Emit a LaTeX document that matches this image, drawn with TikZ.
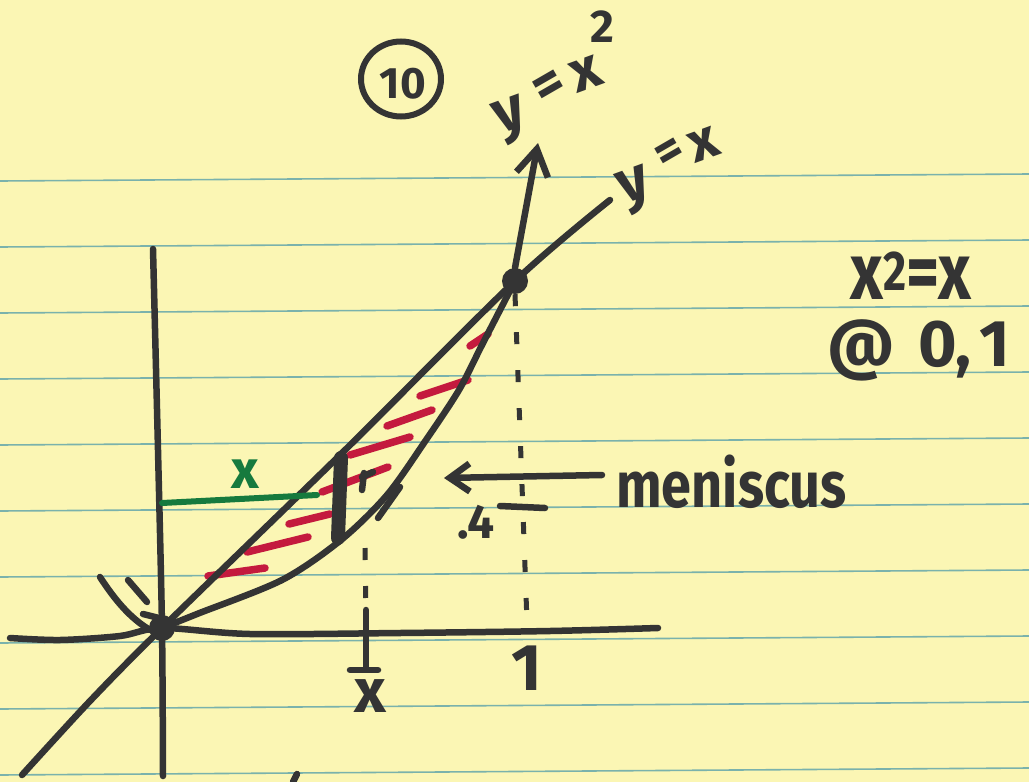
\documentclass[tikz,border=0pt]{standalone}
\usepackage{fontspec}
\setmainfont{Fira Sans}
\usetikzlibrary{arrows.meta,shapes.geometric}
\definecolor{paper}{RGB}{251,246,180}
\definecolor{rulecol}{RGB}{122,178,172}
\definecolor{ink}{RGB}{52,52,52}
\definecolor{redink}{RGB}{196,26,62}
\definecolor{greenink}{RGB}{22,122,62}
\tikzset{
  pen/.style={draw=ink, line width=6.5pt, line cap=round, line join=round},
  hatch/.style={draw=redink, line width=7.5pt, line cap=round},
  dotnode/.style={circle, fill=ink, minimum size=26pt, inner sep=0pt},
  hand/.style={text=ink, inner sep=0pt, font=\bfseries},
  tilt/.style={hand, rotate=20},
  dashv/.style={draw=ink, line width=5pt, dash pattern=on 12pt off 26pt},
  paperline/.style={draw=rulecol, line width=1.6pt},
}
\begin{document}
\begin{tikzpicture}[x=1pt,y=-1pt]
\fill[paper] (0,0) rectangle (1029,782);
\useasboundingbox (0,0) rectangle (1029,782);
% ruled lines
\foreach \k in {0,...,9}{
  \draw[paperline] (0,{181+66*\k}) -- (1029,{174+66*\k});
}
% key points
\node[dotnode] (O) at (162,628) {};
\node[dotnode] (P) at (515,281) {};
\coordinate (yaxtop) at (153,249);
\coordinate (yaxbot) at (163,776);
\coordinate (xaxl) at (10,638);
\coordinate (xaxr) at (658,628);
\coordinate (lineend) at (610,200);
\coordinate (linestart) at (22,775);
\coordinate (arrtip) at (538,143);
% red hatching
\draw[hatch] (470,346) -- (488,334);
\draw[hatch] (420,396) -- (468,380);
\draw[hatch] (387,426) -- (432,410);
\draw[hatch] (350,455) -- (410,437);
\draw[hatch] (322,492) -- (388,467);
\draw[hatch] (289,524) -- (330,514);
\draw[hatch] (247,552) -- (308,537);
\draw[hatch] (208,576) -- (265,568);
% axes
\draw[pen] plot[smooth] coordinates {(yaxtop) (158,450) (O.center) (yaxbot)};
\draw[pen] plot[smooth] coordinates {(xaxl) (60,640) (120,636) (O.center) (250,634) (400,633) (550,631) (xaxr)};
% y = x
\draw[pen] plot[smooth] coordinates {(linestart) (90,701) (O.center) (340,455) (P.center) (lineend)};
% y = x^2
\draw[pen] plot[smooth] coordinates {(O.center) (197,614) (282,580) (341,540) (387,495) (426,440) (459,390) (482,345) (P.center)};
\draw[pen, -{Straight Barb[length=26pt,width=32pt]}] (P.north) -- (arrtip);
\draw[pen] (378,518) -- (400,487);
% left branch marks
\draw[pen] (100,577) .. controls (115,600) and (130,618) .. (150,630);
\draw[pen] (128,580) -- (147,602);
\draw[pen] (143,614) -- (163,619);
% black strip
\draw[ink, line width=14pt, line cap=round] (341,458) -- (338,538);
\draw[pen] (364,473) -- (362,490);
\draw[pen] (362,477) -- (373,472);
% green x
\coordinate (gl) at (162,503);
\coordinate (gr) at (317,495);
\draw[draw=greenink, line width=6pt, line cap=round] (gl) -- (gr);
\node[hand, text=greenink, font=\bfseries\fontsize{54}{54}\selectfont] (gx) at (245,474) {x};
% dashed verticals
\draw[dashv] (P.south) -- (527,622);
\draw[dashv] (365,548) -- (366,622);
% ticks
\draw[pen] (366,610) -- (366,668);
\draw[pen] (350,670) -- (378,670);
\draw[pen] (500,506) -- (545,508);
% labels
\node[hand, font=\bfseries\fontsize{62}{62}\selectfont] (xl) at (370,696) {x};
\node[hand, font=\bfseries\fontsize{66}{66}\selectfont] (onel) at (527,668) {1};
\node[hand, font=\bfseries\fontsize{48}{48}\selectfont] (fourl) at (476,522) {.4};
\node[draw=ink, line width=6pt, ellipse, minimum width=80pt, minimum height=75pt] (circ) at (401,79) {};
\node[hand, font=\bfseries\fontsize{44}{44}\selectfont] (ten) at (403,84) {10};
% y = x^2 label, written letter by letter along the curve
\node[tilt, font=\bfseries\fontsize{60}{60}\selectfont] (lpy) at (512,120) {y};
\node[tilt, rotate=10, font=\bfseries\fontsize{58}{58}\selectfont] (lpeq) at (550,88) {=};
\node[tilt, font=\bfseries\fontsize{58}{58}\selectfont] (lpx) at (586,74) {x};
\node[hand, font=\bfseries\fontsize{46}{46}\selectfont] (lp2) at (602,27) {2};
% y = x label
\node[tilt, font=\bfseries\fontsize{60}{60}\selectfont] (lly) at (636,190) {y};
\node[tilt, rotate=10, font=\bfseries\fontsize{52}{52}\selectfont] (lleq) at (671,155) {=};
\node[tilt, font=\bfseries\fontsize{56}{56}\selectfont] (llx) at (704,145) {x};
% right notes
\node[hand, font=\bfseries\fontsize{80}{80}\selectfont] (eq1) at (911,276) {\scalebox{0.8}[1]{x\textsuperscript{2}=x}};
\node[hand, font=\bfseries\fontsize{66}{66}\selectfont] (eq2) at (919,350) {@\hspace{0.35em}0,\hspace{0.12em}1};
\node[hand, font=\bfseries\fontsize{54}{54}\selectfont, anchor=west] (men) at (616,482) {\scalebox{1}[1.2]{meniscus}};
\coordinate (mtip) at (444,478);
\draw[pen, -{Straight Barb[length=20pt,width=28pt]}] ([xshift=-14pt,yshift=7pt]men.west) -- (mtip);
% stray mark at bottom edge
\draw[pen] (293,782) -- (297,774);
\end{tikzpicture}
\end{document}
